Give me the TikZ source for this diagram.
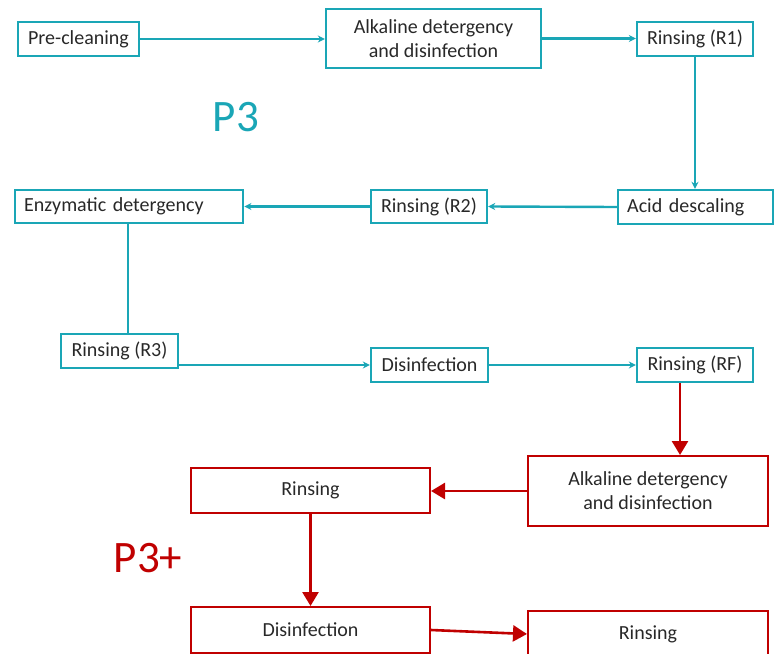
\documentclass[tikz,border=0pt]{standalone}
\usepackage{fontspec}
\setmainfont{Carlito}
\usetikzlibrary{arrows.meta,calc}
\definecolor{tealc}{RGB}{26,166,182}
\definecolor{redc}{RGB}{192,0,0}
\definecolor{txt}{RGB}{40,40,40}
\begin{document}
\begin{tikzpicture}[x=1bp,y=-1bp,
  font=\fontsize{20bp}{24bp}\selectfont,
  tbox/.style={draw=tealc,line width=2.4bp,inner sep=0pt,text=txt,align=center},
  tleft/.style={tbox,align=left,inner xsep=9bp,anchor=west},
  rbox/.style={draw=redc,line width=2bp,inner sep=0pt,text=txt,align=center},
  tarr/.style={draw=tealc,line width=2.4bp,-{Stealth[length=7bp,width=7bp]}},
  tline/.style={draw=tealc,line width=2.4bp},
  rarr/.style={draw=redc,line width=2.6bp,-{Triangle[length=14bp,width=16bp]}},
  big/.style={font=\fontsize{45bp}{50bp}\selectfont}
]
\useasboundingbox (0,0) rectangle (776,654);
\clip (0,0) rectangle (776,654);
% P3 process
\node[tbox,minimum width=121bp,minimum height=34bp] (pre) at (78.5,39) {Pre-cleaning};
\node[tbox,minimum width=215bp,minimum height=59bp] (alk) at (433.5,38.5) {Alkaline detergency\\and disinfection};
\node[tbox,minimum width=116bp,minimum height=34bp] (r1) at (695,39) {Rinsing (R1)};
\node[tleft,text width=210bp,minimum height=33bp] (enz) at (14,206.5) {Enzymatic detergency};
\node[tbox,minimum width=116bp,minimum height=33bp] (r2) at (429,206.5) {Rinsing (R2)};
\node[tleft,text width=137bp,minimum height=34bp] (acid) at (617,207) {Acid descaling};
\node[tbox,minimum width=117bp,minimum height=34bp] (r3) at (119.5,351) {Rinsing (R3)};
\node[tbox,minimum width=117bp,minimum height=34bp] (dis) at (429.5,365) {Disinfection};
\node[tbox,minimum width=116bp,minimum height=34bp] (rf) at (695,365) {Rinsing (RF)};
\node[big,text=tealc] (p3) at (236,117) {P3};
% P3+ process
\node[rbox,minimum width=240bp,minimum height=70bp] (ralk) at (648,491) {Alkaline detergency\\and disinfection};
\node[rbox,minimum width=239bp,minimum height=45bp] (rrin) at (310.5,490.5) {Rinsing};
\node[rbox,minimum width=239bp,minimum height=46bp] (rdis) at (310.5,630) {Disinfection};
\node[rbox,minimum width=240bp,minimum height=46bp] (rrin2) at (648,634) {Rinsing};
\node[big,text=redc] (p3p) at (148,558) {P3+};
% teal connectors
\draw[tarr] (pre.east) -- (pre.east -| alk.west);
\draw[tarr] (alk.east) -- (alk.east -| r1.west);
\draw[tarr] (r1.south) -- (acid.north -| r1.south);
\draw[tarr] (acid.west) -- (r2.east);
\draw[tarr] (r2.west) -- (r2.west -| enz.east);
\draw[tline] ([xshift=114bp]enz.south west) -- ([xshift=114bp]enz.south west |- r3.north);
\draw[tarr] (r3.east |- dis.west) -- (dis.west);
\draw[tarr] (dis.east) -- (rf.west);
% red connectors
\draw[rarr] ([xshift=-15bp]rf.south) -- ([xshift=-15bp]rf.south |- ralk.north);
\draw[rarr] (ralk.west) -- (ralk.west -| rrin.east);
\draw[rarr] (rrin.south) -- (rdis.north);
\draw[rarr] (rdis.east) -- (rrin2.west);
\end{tikzpicture}
\end{document}
